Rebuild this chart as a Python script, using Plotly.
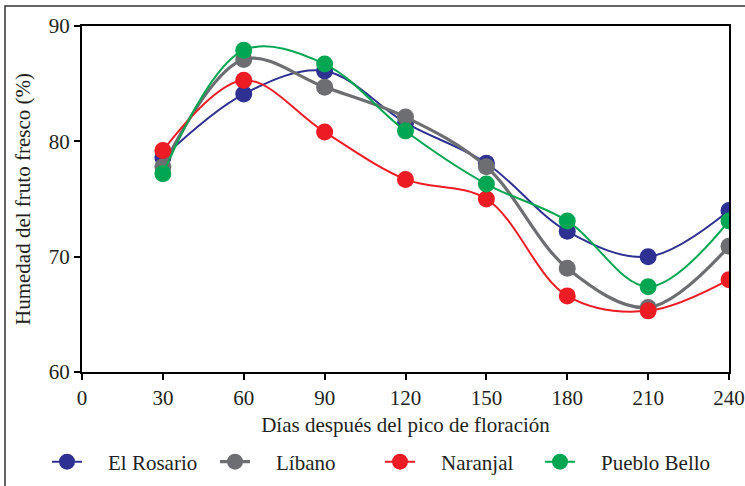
import plotly.graph_objects as go

dias = [30, 60, 90, 120, 150, 180, 210, 240]
el_rosario = [78.6, 84.1, 86.1, 81.6, 78.1, 72.2, 70.0, 74.0]
libano = [77.8, 87.1, 84.7, 82.1, 77.8, 69.0, 65.6, 70.9]
naranjal = [79.2, 85.3, 80.8, 76.7, 75.0, 66.6, 65.3, 68.0]
pueblo_bello = [77.2, 87.9, 86.7, 80.9, 76.3, 73.1, 67.4, 73.1]

series = [
    ("El Rosario", el_rosario, "#2E3192", 2),
    ("Líbano", libano, "#6D6E71", 3.2),
    ("Naranjal", naranjal, "#ED1C24", 2),
    ("Pueblo Bello", pueblo_bello, "#00A651", 2),
]

font = "Liberation Serif"
fs = 21
W, H = 745, 486
L, R, T, B = 82, 16, 26, 114
pw, ph = W - L - R, H - T - B

def px(xp):
    return (xp - L) / pw

def py(yp):
    return (H - B - yp) / ph

legend_ids = ["legend", "legend2", "legend3", "legend4"]
legend_left = [47, 215, 380, 540]
pad = "\u00a0\u00a0\u00a0\u00a0"

fig = go.Figure()
for (name, vals, color, lw), lid in zip(series, legend_ids):
    fig.add_trace(go.Scatter(
        x=dias, y=vals, name=pad + name, mode="lines+markers",
        line=dict(color=color, width=lw, shape="spline", smoothing=1.0),
        marker=dict(color=color, size=17),
        legend=lid,
    ))

legend_layout = {}
for lid, lx in zip(legend_ids, legend_left):
    legend_layout[lid] = dict(
        orientation="h", x=px(lx), xanchor="left", y=py(462), yanchor="middle",
        font=dict(family=font, size=fs, color="#231F20"),
        bgcolor="rgba(0,0,0,0)",
    )

fig.update_layout(
    width=W, height=H,
    margin=dict(l=L, r=R, t=T, b=B, autoexpand=False),
    paper_bgcolor="white", plot_bgcolor="white",
    font=dict(family=font, size=fs, color="#231F20"),
    showlegend=True,
    xaxis=dict(
        range=[0, 240], tickvals=[0, 30, 60, 90, 120, 150, 180, 210, 240],
        showgrid=False, zeroline=False, automargin=False,
        ticklabeloverflow="allow",
        showline=True, linecolor="black", linewidth=2, mirror=True,
        ticks="outside", ticklen=6, tickcolor="black", tickwidth=1.5,
        title=dict(text="Días después del pico de floración", standoff=8,
                   font=dict(family=font, size=fs)),
    ),
    yaxis=dict(
        range=[60, 90], tickvals=[60, 70, 80, 90],
        showgrid=False, zeroline=False, automargin=False,
        showline=True, linecolor="black", linewidth=2, mirror=True,
        ticks="outside", ticklen=6, tickcolor="black", tickwidth=1.5,
        title=dict(text="Humedad del fruto fresco (%)", standoff=12,
                   font=dict(family=font, size=fs)),
    ),
    shapes=[dict(
        type="rect", xref="paper", yref="paper",
        x0=px(5), x1=px(750), y0=py(6), y1=py(492),
        line=dict(color="#333333", width=1.5), layer="below",
    )],
    **legend_layout,
)

fig.write_html("out.html")
